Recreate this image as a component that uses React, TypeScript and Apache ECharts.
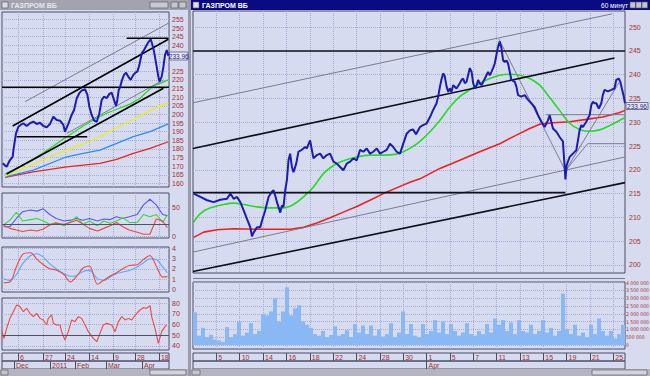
import React, { useEffect, useRef } from 'react';
import * as echarts from 'echarts';

const FONT = '"Liberation Sans", Arial, sans-serif';
const COND = '"DejaVu Sans Condensed", "Liberation Sans Narrow", "DejaVu Sans", sans-serif';
const LABEL_RED = '#a3312f';
const FRAME = '#4c4c66';
const GRIDLINE = '#a4acd6';

// ---------- Left window (daily bars, x = trading-day index) ----------
const leftDateTicks = [10, 25.8, 39.6, 54.7, 69.8, 83.6, 98.7];
const leftDateLabels = ['6', '27', '24', '14', '9', '28', '18'];
const leftMonthTicks = [7.5, 30.2, 45.9, 65.4, 88];
const leftMonthLabels = ['Dec', '2011', 'Feb', 'Mar', 'Apr'];
const leftPriceTicks = [160, 165, 170, 175, 180, 185, 190, 195, 200, 205, 210, 215, 220, 225, 230, 235, 240, 245, 250, 255];
// 230 and 235 are hidden behind the last-price tag in the reference
const leftPriceLabels = [160, 165, 170, 175, 180, 185, 190, 195, 200, 205, 210, 215, 220, 225, 240, 245, 250, 255];
const osc1Ticks = [0, 50];
const osc2Ticks = [0, 1, 2, 3, 4];
const rsiTicks = [40, 50, 60, 70, 80];

const leftPrice = [
  [0.4, 171.7], [2.9, 169.7], [5.0, 173.6], [6.7, 175.5], [7.5, 181.3], [8.8, 189.0], [10.3, 192.9], [11.7, 193.9],
  [13.4, 194.9], [15.5, 193.3], [17.6, 194.9], [19.7, 195.8], [21.8, 194.5], [23.9, 195.2], [26.0, 193.3], [28.1, 192.6],
  [30.2, 194.5], [32.3, 198.7], [34.4, 196.8], [36.5, 196.4], [38.6, 193.9], [39.6, 190.0], [41.7, 194.5], [43.8, 199.7],
  [45.3, 202.6], [47.0, 209.4], [48.6, 212.3], [50.1, 213.8], [52.2, 214.6], [53.7, 211.3], [54.9, 204.5], [56.4, 199.7],
  [57.9, 196.4], [59.6, 195.8], [61.2, 200.7], [62.7, 208.4], [64.2, 210.3], [65.8, 209.4], [67.5, 211.9], [69.0, 212.6],
  [70.4, 208.4], [71.7, 204.9], [72.5, 208.4], [73.4, 214.2], [74.2, 215.7], [75.5, 220.0], [76.7, 222.9], [78.0, 224.2],
  [79.4, 221.9], [80.9, 220.0], [82.6, 222.9], [83.9, 224.2], [85.1, 224.8], [86.4, 228.7], [87.9, 235.4], [89.3, 237.3],
  [91.0, 240.2], [92.3, 242.2], [93.5, 243.5], [94.3, 241.2], [95.6, 236.4], [96.9, 229.6], [98.3, 221.9], [99.0, 219.0],
  [100.4, 221.9], [101.5, 227.7], [102.5, 234.5], [103.6, 237.3], [104.6, 234.0],
];
const leftMaGreen = [[1.9, 165.5], [9.2, 168.8], [19.7, 174.0], [30.2, 180.4], [40.7, 187.1], [51.1, 193.3], [57.4, 196.8], [65.8, 200.7], [72.1, 203.0], [80.5, 206.0], [86.8, 209.4], [92.0, 213.8], [95.2, 216.5], [99.4, 218.0], [104.6, 220.0]];
const leftMaYellow = [[1.9, 164.3], [19.7, 171.3], [30.2, 175.5], [40.7, 179.4], [51.1, 182.9], [61.6, 187.1], [72.1, 192.3], [82.6, 197.2], [93.1, 202.2], [104.6, 206.8]];
const leftMaBlue = [[1.9, 163.9], [19.7, 167.8], [40.7, 175.5], [51.1, 177.5], [61.6, 179.4], [72.1, 183.3], [82.6, 187.1], [93.1, 190.0], [104.6, 194.5]];
const leftMaRed = [[1.9, 163.6], [19.7, 166.8], [40.7, 169.7], [61.6, 171.7], [72.1, 174.0], [82.6, 177.5], [93.1, 180.4], [104.6, 184.2]];
const leftTrendBlack = [
  [[6.7, 193.3], [104.6, 243.5]],
  [[2.9, 165.5], [101.5, 215.2]],
  [[0, 215.7], [105, 215.7]],
  [[9.2, 187.1], [53.6, 187.1]],
  [[78.4, 244.1], [104.6, 244.1]],
];
const leftTrendGray = [
  [[14.5, 207.4], [104.6, 252.8]],
  [[40.7, 189.0], [101.5, 220.0]],
];

const oscDays = [1, 5, 9, 13, 18, 22, 26, 30, 34, 39, 43, 47, 51, 55, 60, 64, 68, 72, 76, 80, 85, 89, 93, 97, 101, 104];
const adxBlue = [16.5, 16.5, 31, 43, 46, 44, 48, 38, 31, 26.5, 28, 31, 28, 31, 26.5, 30, 29, 34, 31, 34, 38, 55, 65, 55, 38, 36];
const adxGreen = [19.4, 28, 42, 26.5, 29, 31, 26.5, 20.6, 24, 18.3, 25.3, 34, 20.6, 26.5, 18.3, 26.5, 22.4, 26.5, 32.4, 24, 24, 38, 34, 38, 24, 37];
const adxRed = [19, 13.5, 10.6, 8, 10.6, 9, 12.4, 19.4, 22.4, 20.6, 24, 28, 20.6, 13.5, 9, 13.5, 18.3, 24, 16.5, 10.6, 6.5, 3, 3, 30, 26.5, 14.7];
const macdRed = [0.65, 0.72, 2.2, 3.44, 3.6, 2.94, 2.42, 2.03, 1.9, 1.44, 0.72, 1.3, 2.1, 2.3, 0.5, 0.9, 1.31, 1.63, 2.03, 2.35, 2.42, 2.94, 3.33, 2.3, 1.21, 1.25];
const macdBlue = [1.05, 0.88, 1.44, 2.52, 3.33, 3.5, 3.17, 2.52, 2.03, 1.54, 1.28, 1.37, 1.76, 1.86, 1.05, 0.88, 1.21, 1.54, 1.7, 1.86, 2.2, 2.62, 3.0, 2.94, 2.2, 1.63];
const rsiLine = [
  [0, 53.3], [1.3, 47], [2.9, 56.4], [5, 65.8], [7.1, 72.1], [9.2, 78.4], [11.3, 76.9], [13.4, 72.1], [15.5, 75.3],
  [17.6, 70.6], [19.7, 67.4], [21.8, 70.6], [23.9, 65.8], [26, 64.3], [28.1, 59.6], [29.1, 65.8], [31.2, 69], [32.3, 61.1],
  [34.4, 59.6], [36.5, 59.6], [37.5, 53.3], [39.6, 45.4], [41.7, 53.3], [43.8, 64.3], [45.9, 62.7], [48, 67.4], [50.1, 65.8],
  [52.2, 59.6], [54.3, 53.3], [57.4, 47], [59.6, 43.8], [61.6, 51.7], [63.7, 59.6], [65.8, 61.1], [69, 59.6], [71.1, 53.3],
  [73.2, 62.7], [75.3, 67.4], [77.4, 64.3], [79.4, 65.8], [81.5, 64.3], [84.7, 70.6], [86.8, 73.7], [88.9, 75.9], [91, 75.3],
  [93.1, 77.8], [94.1, 67.4], [96.2, 56.4], [98.3, 42.3], [100.4, 53.3], [102.5, 58], [103.6, 59.6],
];

// ---------- Right window (60-minute bars, x = trading-day index) ----------
const rightDateTicks = [2, 4, 6, 8, 10, 12, 14, 16, 18, 20, 22, 24, 26, 28, 30, 32, 34, 36];
const rightDateLabels = ['5', '10', '14', '16', '18', '22', '24', '28', '30', '1', '5', '7', '11', '13', '15', '19', '21', '25'];
const rightMonthTicks = [20];
const rightMonthLabels = ['Apr'];
const rightPriceTicks = [200, 205, 210, 215, 220, 225, 230, 235, 240, 245, 250];
const volumeTicks = [0, 500, 1000, 1500, 2000, 2500, 3000, 3500, 4000]; // thousands

const rightPrice = [
  [0.06, 215.0], [0.63, 214.3], [1.21, 213.6], [1.77, 213.2], [2.34, 213.7], [2.91, 213.9], [3.2, 215.0], [3.48, 213.9],
  [3.77, 214.3], [4.05, 213.2], [4.33, 211.5], [4.62, 209.7], [4.91, 207.9], [5.05, 206.0], [5.19, 206.8], [5.48, 207.9],
  [5.76, 207.9], [5.91, 209.3], [6.19, 211.5], [6.47, 214.3], [6.76, 215.4], [6.9, 215.7], [7.04, 214.6], [7.19, 213.2],
  [7.32, 212.2], [7.47, 211.0], [7.62, 212.5], [7.75, 212.2], [7.9, 215.7], [8.04, 217.8], [8.18, 222.0], [8.32, 223.4],
  [8.47, 220.6], [8.61, 219.5], [8.84, 221.3], [9.03, 223.8], [9.32, 224.2], [9.61, 224.8], [9.75, 224.5], [10.03, 226.2],
  [10.18, 224.2], [10.32, 222.4], [10.61, 223.1], [10.89, 223.4], [11.17, 222.4], [11.46, 223.1], [11.74, 223.4], [12.03, 221.7],
  [12.32, 221.3], [12.6, 220.6], [12.88, 219.9], [13.17, 221.3], [13.45, 221.7], [13.74, 222.4], [14.03, 222.0], [14.31, 224.2],
  [14.59, 223.8], [14.88, 224.5], [15.16, 223.4], [15.44, 223.8], [15.74, 224.5], [16.02, 223.4], [16.3, 223.8], [16.59, 224.2],
  [16.87, 225.5], [17.15, 224.8], [17.44, 223.8], [17.73, 223.4], [18.01, 225.5], [18.3, 227.6], [18.58, 228.3], [18.84, 228.5],
  [19.1, 227.5], [19.44, 229.0], [19.7, 229.4], [20.0, 229.7], [20.3, 231.1], [20.57, 232.6], [20.86, 234.0], [21.0, 235.4],
  [21.15, 237.5], [21.3, 239.2], [21.44, 240.3], [21.57, 239.6], [21.72, 237.5], [21.86, 236.4], [22.0, 237.1], [22.14, 236.4],
  [22.28, 237.8], [22.57, 237.1], [22.85, 238.2], [23.0, 238.9], [23.14, 239.2], [23.28, 238.2], [23.43, 238.5], [23.71, 241.4],
  [23.86, 240.6], [24.0, 238.2], [24.14, 237.1], [24.29, 237.8], [24.42, 238.9], [24.56, 238.2], [24.71, 237.8], [25.0, 239.2],
  [25.27, 240.6], [25.42, 239.9], [25.56, 240.6], [25.7, 241.4], [25.85, 242.4], [25.99, 244.2], [26.13, 245.9], [26.27, 247.0],
  [26.42, 245.6], [26.56, 243.0], [26.7, 242.7], [26.85, 243.0], [26.98, 242.4], [27.13, 240.6], [27.27, 238.9], [27.56, 238.5],
  [27.7, 237.5], [27.84, 235.7], [28.13, 235.4], [28.41, 235.7], [28.7, 234.7], [28.98, 234.0], [29.26, 233.2], [29.55, 231.5],
  [29.84, 230.1], [30.12, 229.0], [30.4, 230.4], [30.55, 231.5], [30.69, 230.1], [30.83, 228.7], [31.12, 228.0], [31.4, 226.9],
  [31.68, 226.0], [31.83, 220.6], [31.9, 218.0], [32.0, 221.0], [32.26, 222.7], [32.54, 223.4], [32.83, 224.1], [33.11, 228.3],
  [33.26, 229.4], [33.4, 229.0], [33.68, 230.1], [33.97, 231.5], [34.11, 233.6], [34.25, 234.3], [34.39, 234.0], [34.54, 234.0],
  [34.76, 232.9], [34.97, 234.0], [35.1, 235.7], [35.25, 236.8], [35.54, 236.5], [35.83, 236.8], [36.1, 237.1], [36.25, 238.9],
  [36.47, 239.2], [36.6, 238.5], [36.73, 237.1], [36.87, 235.7], [37.0, 234.0],
];
const rightMaGreen = [
  [0.06, 209.0], [0.63, 210.8], [1.49, 212.0], [2.62, 212.7], [3.48, 213.0], [4.33, 212.7], [5.48, 212.2], [6.62, 212.0],
  [7.75, 212.0], [8.61, 212.7], [9.46, 214.3], [10.32, 216.4], [11.17, 219.2], [12.03, 220.9], [12.88, 221.9], [14.03, 222.7],
  [15.16, 223.1], [16.3, 223.1], [17.44, 223.3], [18.01, 223.8], [18.58, 224.5], [19.44, 226.0], [20.3, 228.0], [21.15, 230.4],
  [22.0, 233.2], [22.85, 235.4], [23.71, 236.8], [24.56, 238.2], [25.42, 239.2], [26.27, 239.9], [27.13, 240.1], [27.98, 239.9],
  [28.84, 239.2], [29.7, 237.8], [30.55, 235.2], [31.4, 232.5], [32.26, 229.8], [33.11, 228.5], [33.97, 228.1], [34.82, 228.4],
  [35.68, 229.3], [37.0, 231.0],
];
const rightMaRed = [
  [0.06, 205.8], [0.92, 206.9], [2.06, 207.4], [3.48, 207.6], [5.48, 207.5], [7.19, 207.5], [8.32, 207.5], [9.46, 207.9],
  [10.61, 208.8], [11.74, 209.9], [12.88, 211.1], [14.03, 212.3], [15.16, 213.6], [16.3, 215.0], [17.44, 216.2], [18.58, 217.4],
  [19.44, 218.1], [21.15, 220.3], [22.85, 222.0], [24.56, 223.8], [26.27, 225.5], [27.7, 227.3], [28.84, 228.7], [29.7, 229.6],
  [30.83, 229.9], [32.26, 230.1], [33.68, 230.6], [35.1, 231.1], [36.5, 232.0], [37.0, 232.5],
];
const rightTrendBlack = [
  [[0, 245], [37, 245]],
  [[0, 224.5], [36.1, 243.5]],
  [[0, 215.2], [31.9, 215.2]],
  [[0, 198.6], [37, 217.3]],
];
const rightTrendGray = [
  [[0, 234.1], [35.9, 252.8]],
  [[0, 202.7], [37, 222.7]],
  [[26.2, 247.5], [31.9, 219.8]],
  [[31.9, 219.8], [36.5, 238.4]],
  [[31.9, 219.8], [33.8, 225.5]],
  [[33.8, 225.5], [37, 225.5]],
  [[30.2, 231.6], [37, 231.6]],
];
// hourly volume, thousands of shares (one bar ≈ 4 hourly bars)
const rightVolume = [
  2100, 600, 1100, 500, 650, 350, 300, 200, 1150, 500, 700, 1500, 600, 800, 1400, 700, 900, 2000, 1900, 2150,
  3000, 1500, 2150, 3700, 1900, 2350, 2550, 1500, 1300, 1100, 700, 600, 900, 500, 650, 1200, 600, 700, 950, 500,
  1350, 800, 1250, 700, 1250, 600, 1000, 550, 700, 1400, 500, 800, 2150, 700, 1350, 600, 500, 1350, 700, 900,
  1600, 800, 1500, 700, 1350, 900, 600, 800, 1400, 700, 600, 900, 700, 1350, 800, 1700, 1300, 1600, 900, 1450,
  700, 1600, 900, 800, 1300, 700, 900, 1600, 800, 1100, 600, 900, 3300, 1000, 700, 1300, 600, 800, 500, 1300,
  700, 1700, 900, 600, 900, 400, 700, 1300,
];
const lastPrice = '233.96';

const pick = (ticks: number[], labels: string[]) => (v: number) => {
  let best = -1;
  let bd = 1e9;
  ticks.forEach((t, i) => {
    const d = Math.abs(t - v);
    if (d < bd) { bd = d; best = i; }
  });
  return bd < 0.01 ? labels[best] : '';
};

const gridLine = { show: true, lineStyle: { color: GRIDLINE, type: 'dotted' as const, width: 1 } };

function plotX(gridIndex: number, max: number, ticks: number[]) {
  return {
    type: 'value', gridIndex, min: 0, max,
    axisLine: { show: false },
    axisTick: { show: false, customValues: ticks },
    axisLabel: { show: false, customValues: ticks },
    splitLine: gridLine,
  };
}
function dateX(gridIndex: number, max: number, ticks: number[], labels: string[]) {
  return {
    type: 'value', gridIndex, min: 0, max,
    axisLine: { show: false },
    axisTick: { show: true, inside: true, length: 8, customValues: ticks, lineStyle: { color: FRAME, width: 1 } },
    axisLabel: {
      show: true, inside: true, margin: 0, customValues: ticks, formatter: pick(ticks, labels),
      align: 'left', padding: [0, 0, 0, 2], fontSize: 7, color: LABEL_RED, fontFamily: FONT,
    },
    splitLine: { show: false },
  };
}
function plotY(gridIndex: number, min: number, max: number, ticks: number[], labels: number[], fontSize: number, font = FONT, margin = 3, fmt?: (v: number) => string) {
  return {
    type: 'value', gridIndex, min, max, position: 'right',
    axisLine: { show: false },
    axisTick: { show: false, customValues: ticks },
    axisLabel: { show: true, customValues: labels, fontSize, color: LABEL_RED, fontFamily: font, margin, formatter: fmt },
    splitLine: gridLine,
  };
}
const dummyY = (gridIndex: number) => ({ type: 'value', gridIndex, min: 0, max: 1, show: false });

function ln(data: any[], xi: number, yi: number, color: string, width: number, z = 3, extra: any = {}) {
  return {
    type: 'line', xAxisIndex: xi, yAxisIndex: yi, data, symbol: 'none', showSymbol: false,
    lineStyle: { color, width }, z, silent: true, clip: true, ...extra,
  };
}
const refLine = (value: number) => ({
  silent: true, symbol: 'none', label: { show: false },
  lineStyle: { color: '#505068', type: 'solid', width: 1 },
  data: [{ yAxis: value }],
});

const fmtVol = (v: number) => (v === 0 ? '0' : String(v * 1000).replace(/\B(?=(\d{3})+(?!\d))/g, ' '));

const g = (left: number, top: number, width: number, height: number) => ({
  left, top, width, height, show: true, borderColor: FRAME, borderWidth: 1,
  backgroundColor: 'transparent', containLabel: false, outerBoundsMode: 'none',
});

export default function App() {
  const ref = useRef<HTMLDivElement>(null);
  useEffect(() => {
    if (!ref.current) return;
    const chart = echarts.init(ref.current, null, { renderer: 'svg', width: 650, height: 376 });

    const series: any[] = [];
    // left price panel
    series.push(ln(leftMaRed, 0, 0, '#ee2222', 1.3));
    series.push(ln(leftMaBlue, 0, 0, '#2a8cff', 1.3));
    series.push(ln(leftMaYellow, 0, 0, '#f2f000', 1.3));
    series.push(ln(leftMaGreen, 0, 0, '#22dd22', 1.3));
    leftTrendGray.forEach((d) => series.push(ln(d, 0, 0, '#7c7c8e', 1, 4)));
    leftTrendBlack.forEach((d) => series.push(ln(d, 0, 0, '#000000', 1.6, 4)));
    series.push(ln(leftPrice, 0, 0, '#1c1cb0', 2, 5));
    // oscillators
    series.push(ln(oscDays.map((d, i) => [d, adxBlue[i]]), 1, 1, '#5858f0', 1.1, 3, { markLine: refLine(20) }));
    series.push(ln(oscDays.map((d, i) => [d, adxGreen[i]]), 1, 1, '#38d838', 1.1));
    series.push(ln(oscDays.map((d, i) => [d, adxRed[i]]), 1, 1, '#ee4444', 1.1));
    series.push(ln(oscDays.map((d, i) => [d, macdBlue[i]]), 2, 2, '#5aa8ff', 1.1, 3, { smooth: 0.3 }));
    series.push(ln(oscDays.map((d, i) => [d, macdRed[i]]), 2, 2, '#ee4848', 1.1, 3, { smooth: 0.3 }));
    series.push(ln(rsiLine, 3, 3, '#ee4848', 1.1, 3, { markLine: refLine(50) }));
    // right price panel
    series.push(ln(rightMaRed, 6, 6, '#ee2020', 1.6));
    series.push(ln(rightMaGreen, 6, 6, '#22dd22', 1.6, 3, { smooth: 0.3 }));
    rightTrendGray.forEach((d) => series.push(ln(d, 6, 6, '#7c7c8e', 1, 4)));
    rightTrendBlack.forEach((d) => series.push(ln(d, 6, 6, '#101018', 1.6, 4)));
    series.push(ln(rightPrice, 6, 6, '#1c1cb0', 2, 5));
    // volume
    series.push({
      type: 'bar', xAxisIndex: 8, yAxisIndex: 7, data: rightVolume, barWidth: 4,
      itemStyle: { color: '#8ab8f4' }, silent: true, z: 3,
    });

    const tag = (x: number, y: number, w: number, h: number, size: number) => [
      { type: 'rect', z: 100, shape: { x, y, width: w, height: h }, style: { fill: '#e4e6f4', stroke: '#5a5a70', lineWidth: 0.8 } },
      { type: 'text', z: 101, x: x + w / 2, y: y + h / 2 + 0.3, style: { text: lastPrice, fill: '#1c1c90', font: `${size}px ${FONT}`, align: 'center', verticalAlign: 'middle' } },
    ];
    const btn = (x: number, y: number, w: number, h: number, fill = '#c4c4cc') => ({
      type: 'rect', shape: { x, y, width: w, height: h }, style: { fill, stroke: '#50505c', lineWidth: 0.6 },
    });

    const graphic: any[] = [
      // left title bar (inactive)
      { type: 'rect', shape: { x: 0, y: 0, width: 188, height: 10 }, style: { fill: '#a3a3b0' } },
      btn(2, 2, 6, 6, '#dcdce4'),
      { type: 'text', x: 11, y: 5.3, style: { text: 'ГАЗПРОМ ВБ', fill: '#e6e6ee', font: `bold 7px ${FONT}`, verticalAlign: 'middle' } },
      btn(150, 2, 18, 6, '#c8c8d2'),
      btn(171, 2, 7, 6), btn(179, 2, 7, 6),
      // window separator
      { type: 'rect', shape: { x: 188, y: 0, width: 3, height: 376 }, style: { fill: '#9a9aaa' } },
      // right title bar (active)
      { type: 'rect', shape: { x: 191, y: 0, width: 459, height: 10 }, style: { fill: '#0a0a84' } },
      btn(193, 2, 6, 6, '#e0e0e6'),
      { type: 'text', x: 202, y: 5.3, style: { text: 'ГАЗПРОМ ВБ', fill: '#ffffff', font: `bold 7px ${FONT}`, verticalAlign: 'middle' } },
      { type: 'text', x: 628, y: 5.3, style: { text: '60 минут', fill: '#ffffff', font: `6.5px ${FONT}`, align: 'right', verticalAlign: 'middle' } },
      btn(630, 2, 5.5, 6), btn(636, 2, 5.5, 6), btn(642, 2, 5.5, 6),
      // bottom scroll bars
      { type: 'rect', shape: { x: 0, y: 369, width: 188, height: 7 }, style: { fill: '#b4b4c2' } },
      { type: 'rect', shape: { x: 191, y: 369, width: 459, height: 7 }, style: { fill: '#b4b4c2' } },
      btn(1, 370, 7, 5), btn(150, 370, 36, 5, '#d2d2da'),
      btn(192, 370, 8, 5), btn(592, 370, 55, 5, '#d2d2da'),
      // separator between price and volume panes
      { type: 'line', shape: { x1: 193, y1: 278.5, x2: 625, y2: 278.5 }, style: { stroke: '#7a7a92', lineWidth: 1 } },
      ...tag(169.5, 52, 18.5, 8, 6.5),
      ...tag(626, 102.5, 22, 7, 6.5),
    ];

    chart.setOption({
      animation: false,
      backgroundColor: '#d7dbf0',
      textStyle: { fontFamily: FONT },
      grid: [
        g(2, 12, 167, 175),
        g(2, 193, 167, 45),
        g(2, 247, 167, 45),
        g(2, 298, 167, 52),
        g(2, 353, 167, 8),
        g(2, 361, 167, 8),
        g(193, 11, 432, 262),
        g(193, 282, 432, 67),
        g(193, 353, 432, 8),
        g(193, 361, 432, 8),
      ],
      xAxis: [
        plotX(0, 105, leftDateTicks),
        plotX(1, 105, leftDateTicks),
        plotX(2, 105, leftDateTicks),
        plotX(3, 105, leftDateTicks),
        dateX(4, 105, leftDateTicks, leftDateLabels),
        dateX(5, 105, leftMonthTicks, leftMonthLabels),
        plotX(6, 37, rightDateTicks),
        plotX(7, 37, rightDateTicks),
        { type: 'category', gridIndex: 7, data: rightVolume.map((_, i) => String(i)), show: false, boundaryGap: true },
        dateX(8, 37, rightDateTicks, rightDateLabels),
        dateX(9, 37, rightMonthTicks, rightMonthLabels),
      ],
      yAxis: [
        plotY(0, 158, 259.3, leftPriceTicks, leftPriceLabels, 7),
        plotY(1, -3.5, 76, osc1Ticks, osc1Ticks, 7),
        plotY(2, -0.26, 4.16, osc2Ticks, osc2Ticks, 7),
        plotY(3, 36, 85, rsiTicks, rsiTicks, 7),
        dummyY(4),
        dummyY(5),
        plotY(6, 198.3, 253.4, rightPriceTicks, rightPriceTicks, 7, FONT, 4),
        plotY(7, -257, 4045, volumeTicks, volumeTicks, 5, COND, 1, fmtVol),
        dummyY(8),
        dummyY(9),
      ],
      series,
      graphic,
    });
    return () => chart.dispose();
  }, []);
  return <div ref={ref} style={{ position: 'absolute', left: 0, top: 0, width: 650, height: 376 }} />;
}
